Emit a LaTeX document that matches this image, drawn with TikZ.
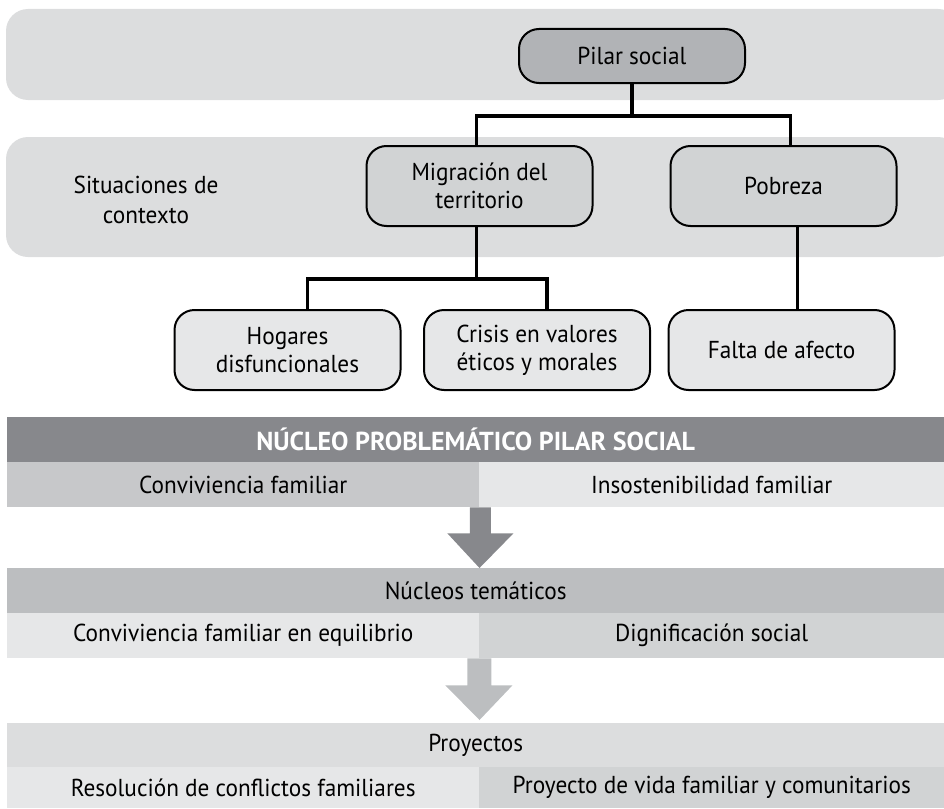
\documentclass[tikz,border=0pt]{standalone}
\usepackage{fontspec}
\setmainfont[FakeStretch=0.95]{PT Sans}
\newfontfamily\hdrfont[FakeStretch=1.0]{PT Sans}
\usetikzlibrary{calc}
\definecolor{bandgray}{HTML}{DCDDDE}
\definecolor{pilargray}{HTML}{B1B3B6}
\definecolor{midgray}{HTML}{D1D3D4}
\definecolor{lightgray}{HTML}{E6E7E8}
\definecolor{darkgray}{HTML}{87888C}
\definecolor{rowgray}{HTML}{C7C8CA}
\definecolor{hdrgray}{HTML}{BCBEC0}
\tikzset{
  band/.style={fill=bandgray, rounded corners=22pt, draw=none},
  rbox/.style={draw=black, line width=2pt, rounded corners=20pt, align=center,
    minimum width=226pt, minimum height=80pt, inner sep=2pt, font=\fontsize{24.5}{28}\selectfont},
  conn/.style={line width=3.5pt},
  cell/.style={anchor=north west, inner sep=0pt, draw=none, align=center,
    font=\fontsize{24.5}{28}\selectfont},
}
\begin{document}
\begin{tikzpicture}[x=1pt,y=-1pt]
\useasboundingbox (0,0) rectangle (944,808);
% bands
\fill[band] (6,9) rectangle (960,100);
\fill[band] (6,137) rectangle (960,257);
\node[font=\fontsize{24.5}{30}\selectfont, align=center] (ctx) at (146,200) {Situaciones de\\contexto};
% boxes
\node[rbox, fill=pilargray, minimum height=54pt] (pilar) at (632,56) {Pilar social};
\node[rbox, fill=midgray] (mig) at (479.5,186) {Migración del\\territorio};
\node[rbox, fill=midgray] (pob) at (783.5,186) {Pobreza};
\node[rbox, fill=lightgray] (hog) at (287.5,350) {Hogares\\disfuncionales};
\node[rbox, fill=lightgray] (cri) at (537,350) {Crisis en valores\\éticos y morales};
\node[rbox, fill=lightgray] (fal) at (781.5,350) {Falta de afecto};
% connectors
\draw[conn] (pilar.south) -- ++(0,32) coordinate (j1);
\draw[conn] ([xshift=-3pt]mig.north) |- (j1) -| ([xshift=7pt]pob.north);
\draw[conn] ([xshift=-3pt]mig.south) -- ++(0,52) coordinate (j2);
\draw[conn] ([xshift=20pt]hog.north) |- (j2) -| ([xshift=10pt]cri.north);
\draw[conn] ([xshift=14pt]pob.south) -- ([xshift=16pt]fal.north);
% table 1
\node[cell, fill=darkgray, minimum width=937pt, minimum height=45pt, text=white,
  font=\hdrfont\fontsize{26}{28}\selectfont\bfseries] (h1) at (7,417) {NÚCLEO PROBLEMÁTICO PILAR SOCIAL};
\node[cell, fill=rowgray, minimum width=472pt, minimum height=45pt] (r1l) at (7,462) {Conviviencia familiar};
\node[cell, fill=lightgray, minimum width=465pt, minimum height=45pt] (r1r) at (479,462) {Insostenibilidad familiar};
% table 2
\node[cell, fill=hdrgray, minimum width=937pt, minimum height=45pt] (h2) at (7,568) {Núcleos temáticos};
\node[cell, fill=lightgray, minimum width=472pt, minimum height=45pt] (r2l) at (7,613) {Conviviencia familiar en equilibrio};
\node[cell, fill=midgray, minimum width=465pt, minimum height=45pt] (r2r) at (479,613) {Dignificación social};
% table 3
\node[cell, fill=bandgray, minimum width=937pt, minimum height=44pt] (h3) at (7,723) {Proyectos};
\node[cell, fill=lightgray, minimum width=472pt, minimum height=41pt] (r3l) at (7,767) {Resolución de conflictos familiares};
\node[cell, fill=midgray, minimum width=465pt, minimum height=41pt] (r3r) at (479,767) {Proyecto de vida familiar y comunitarios};
% arrows
\fill[darkgray] ($(r1l.south east)+(-9.5,0)$) -- ++(0,26) -- ++(-22.5,0) -- ($(h2.north west)+(472.5,0)$)
  -- ($(r1l.south east)+(34,26)$) -- ++(-22.5,0) -- ++(0,-26) -- cycle;
\fill[hdrgray] ($(r2l.south east)+(-12,0)$) -- ++(0,27) -- ++(-22,0) -- ($(h3.north west)+(472.5,-3)$)
  -- ($(r2l.south east)+(33,27)$) -- ++(-21,0) -- ++(0,-27) -- cycle;
\end{tikzpicture}
\end{document}
